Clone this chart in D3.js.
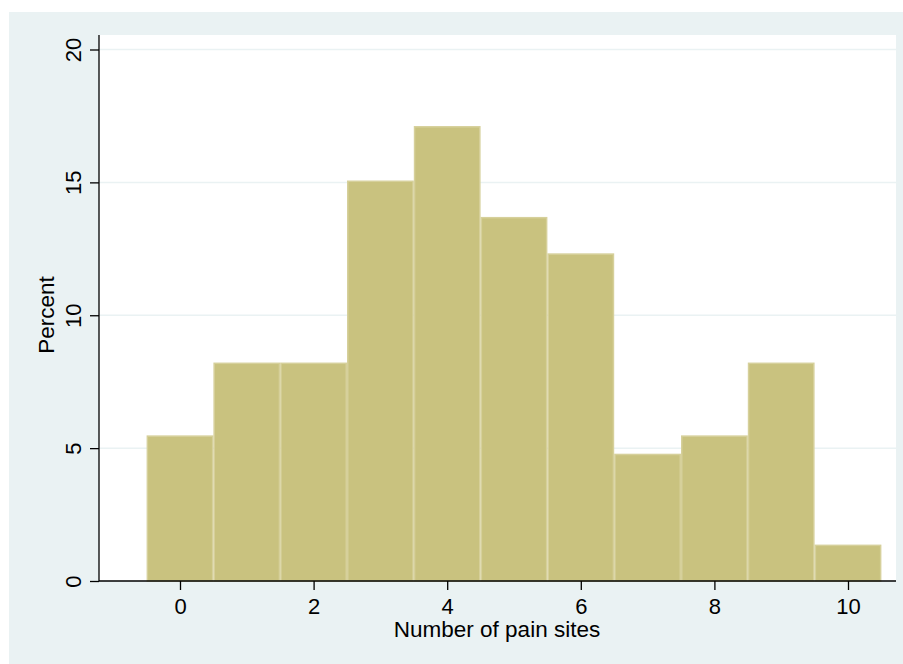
<!DOCTYPE html>
<html>
<head>
<meta charset="utf-8">
<script src="https://cdn.jsdelivr.net/npm/d3@7"></script>
<style>
html,body{margin:0;padding:0;background:#fff;}
svg{display:block;font-family:"Liberation Sans",Arial,Helvetica,sans-serif;}
</style>
</head>
<body>
<svg id="chart" width="903" height="664"></svg>
<script>
const categories = [0,1,2,3,4,5,6,7,8,9,10];
const percents = [5.48,8.22,8.22,15.07,17.12,13.70,12.33,4.79,5.48,8.22,1.37];
const xTicks = [0,2,4,6,8,10];
const yTicks = [0,5,10,15,20];
const xTitle = "Number of pain sites";
const yTitle = "Percent";

const svg = d3.select("#chart");
const W = 903, H = 664;
svg.append("rect").attr("x",9).attr("y",12).attr("width",W-9).attr("height",H-12).attr("fill","#EAF2F3");
const plot = {l:99, r:896, t:35, b:581};
svg.append("rect").attr("x",plot.l).attr("y",plot.t).attr("width",plot.r-plot.l).attr("height",plot.b-plot.t).attr("fill","#fff");

const x = d3.scaleLinear().domain([0,10]).range([180,848]);
const y = d3.scaleLinear().domain([0,20]).range([581,49.5]);

svg.append("g").selectAll("line").data(yTicks.filter(d=>d>0)).join("line")
  .attr("x1",plot.l).attr("x2",plot.r)
  .attr("y1",d=>y(d)).attr("y2",d=>y(d))
  .attr("stroke","#EAF2F3").attr("stroke-width",1.5);

svg.append("g").selectAll("rect").data(categories).join("rect")
  .attr("x",(d)=>x(d-0.5)+0.75)
  .attr("width",(d)=>x(d+0.5)-x(d-0.5)-1.5)
  .attr("y",(d,i)=>y(percents[i])+0.75)
  .attr("height",(d,i)=>y(0)-y(percents[i])-0.75)
  .attr("fill","#C9C27F")
  .attr("stroke","#D6D09B").attr("stroke-width",1.5);

const yAxis = d3.axisLeft(y).tickValues(yTicks).tickSize(9).tickPadding(0).tickFormat(d3.format("d"));
const gy = svg.append("g").attr("transform",`translate(${plot.l},0)`).call(yAxis);
gy.select(".domain").attr("d",`M0,${plot.t}V${plot.b}`).attr("stroke","#000").attr("stroke-width",1.3);
gy.selectAll(".tick line").attr("stroke","#000").attr("stroke-width",1.3);
gy.selectAll(".tick text").attr("transform","rotate(-90)").attr("x",0).attr("y",-18)
  .attr("dy","0").attr("text-anchor","middle")
  .style("font-size","22px").attr("fill","#000").attr("font-family",null);

const xAxis = d3.axisBottom(x).tickValues(xTicks).tickSize(9).tickPadding(8).tickFormat(d3.format("d"));
const gx = svg.append("g").attr("transform",`translate(0,${plot.b})`).call(xAxis);
gx.select(".domain").attr("d",`M${plot.l},0H${plot.r}`).attr("stroke","#000").attr("stroke-width",1.3);
gx.selectAll(".tick line").attr("stroke","#000").attr("stroke-width",1.3);
gx.selectAll(".tick text").style("font-size","22px").attr("fill","#000").attr("font-family",null);

svg.append("text").attr("x",497).attr("y",637).attr("text-anchor","middle")
  .style("font-size","22.5px").attr("fill","#000").text(xTitle);
svg.append("text").attr("transform","translate(54,315) rotate(-90)").attr("text-anchor","middle")
  .style("font-size","22.5px").attr("fill","#000").text(yTitle);
</script>
</body>
</html>
